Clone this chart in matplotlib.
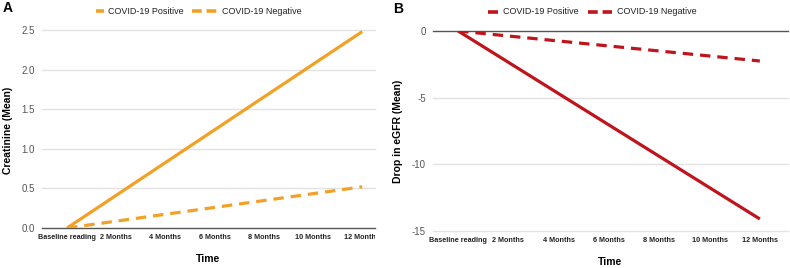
import matplotlib
matplotlib.use("Agg")
import matplotlib.pyplot as plt
from matplotlib.lines import Line2D
from matplotlib.transforms import Bbox

plt.rcParams['font.family'] = ['Liberation Sans', 'DejaVu Sans']
plt.rcParams['lines.scale_dashes'] = False

# ---- data ----
categories = ["Baseline reading", "2 Months", "4 Months", "6 Months",
              "8 Months", "10 Months", "12 Months"]
measured_idx = [0, 6]          # baseline and 12 months
creat_pos = [0.0, 2.48]
creat_neg = [0.0, 0.52]
egfr_pos = [0.0, -14.1]
egfr_neg = [0.0, -2.25]
creat_ticks = [0.0, 0.5, 1.0, 1.5, 2.0, 2.5]
egfr_ticks = [-15, -10, -5, 0]
series_names = ["COVID-19 Positive", "COVID-19 Negative"]

ORANGE = '#f2a026'
RED = '#c0141c'
GRID = '#e2e2e2'
AXIS = '#555555'
DASH = (0, (7.5, 5))

W, H = 790, 268
fig = plt.figure(figsize=(W / 100, H / 100), dpi=100)

def fx(px):
    return px / W

def fy(py):
    return 1 - py / H

tick_font = dict(fontsize=5.2, fontweight='bold', color='#222222')

# ---------- Panel A ----------
axA = fig.add_axes([fx(42), fy(228), fx(375 - 42), (228 - 30) / H])
axA.plot(measured_idx, creat_pos, color=ORANGE, lw=2.3, solid_capstyle='butt', zorder=3)
axA.plot(measured_idx, creat_neg, color=ORANGE, lw=2.3, linestyle=DASH, zorder=3)
axA.set_xlim(-0.51, 6.26)
axA.set_ylim(0, 2.5)
axA.set_yticks(creat_ticks)
axA.set_yticklabels([f"{v:.1f}" for v in creat_ticks])
for v in creat_ticks[1:]:
    axA.axhline(v, color=GRID, lw=1, zorder=1, clip_on=False)
axA.axhline(0, color=AXIS, lw=1, zorder=2, clip_on=False)

# ---------- Panel B ----------
axB = fig.add_axes([fx(433), fy(231), fx(788 - 433), (231 - 31) / H])
axB.plot(measured_idx, egfr_pos, color=RED, lw=2.3, solid_capstyle='butt', zorder=3)
axB.plot(measured_idx, egfr_neg, color=RED, lw=2.3, linestyle=DASH, zorder=3)
axB.set_xlim(-0.5, 6.56)
axB.set_ylim(-15, 0)
axB.set_yticks(egfr_ticks)
axB.set_yticklabels([str(v) for v in egfr_ticks])
for v in egfr_ticks[:-1]:
    axB.axhline(v, color=GRID, lw=1, zorder=1, clip_on=False)
axB.axhline(0, color=AXIS, lw=1, zorder=2, clip_on=False)

for ax in (axA, axB):
    for s in ax.spines.values():
        s.set_visible(False)
    ax.set_xticks(range(len(categories)))
    ax.set_xticklabels(categories, **tick_font)
    ax.tick_params(axis='x', length=0, pad=4)
    ax.tick_params(axis='y', length=0, pad=5, labelsize=7, labelcolor='#555555')
    ax.set_facecolor('none')

# Clip last A tick label at the plot edge like the reference
clipbox = Bbox.from_extents(0, 0, 375, H)
for lab in axA.get_xticklabels():
    lab.set_clip_box(clipbox)
    lab.set_clip_on(True)

axA.set_xlabel("Time", fontsize=7.5, fontweight='bold', labelpad=10)
axB.set_xlabel("Time", fontsize=7.5, fontweight='bold', labelpad=10)
fig.text(fx(8), fy(130), "Creatinine (Mean)", rotation=90, ha='center', va='center',
         fontsize=7.5, fontweight='bold')
fig.text(fx(398), fy(131), "Drop in eGFR (Mean)", rotation=90, ha='center', va='center',
         fontsize=7.5, fontweight='bold')

fig.text(fx(8), fy(8), "A", ha='center', va='center', fontsize=10, fontweight='bold')
fig.text(fx(398), fy(9), "B", ha='center', va='center', fontsize=10, fontweight='bold')

# ---------- Legends (manual, in figure coordinates) ----------
def legend_item(x0, x1, xt, y, color, dashed, label):
    ln = Line2D([fx(x0), fx(x1)], [fy(y), fy(y)], transform=fig.transFigure,
                color=color, lw=2.6, solid_capstyle='butt')
    if dashed:
        ln.set_linestyle((0, (7, 3.5)))
    fig.add_artist(ln)
    fig.text(fx(xt), fy(y), label, ha='left', va='center', fontsize=6.5,
             color='#222222')

legend_item(96, 104, 108, 11, ORANGE, False, series_names[0])
legend_item(192, 217, 222, 11, ORANGE, True, series_names[1])
legend_item(488, 498, 503, 12, RED, False, series_names[0])
legend_item(588, 612, 617, 12, RED, True, series_names[1])

fig.savefig("out.png", dpi=100)
